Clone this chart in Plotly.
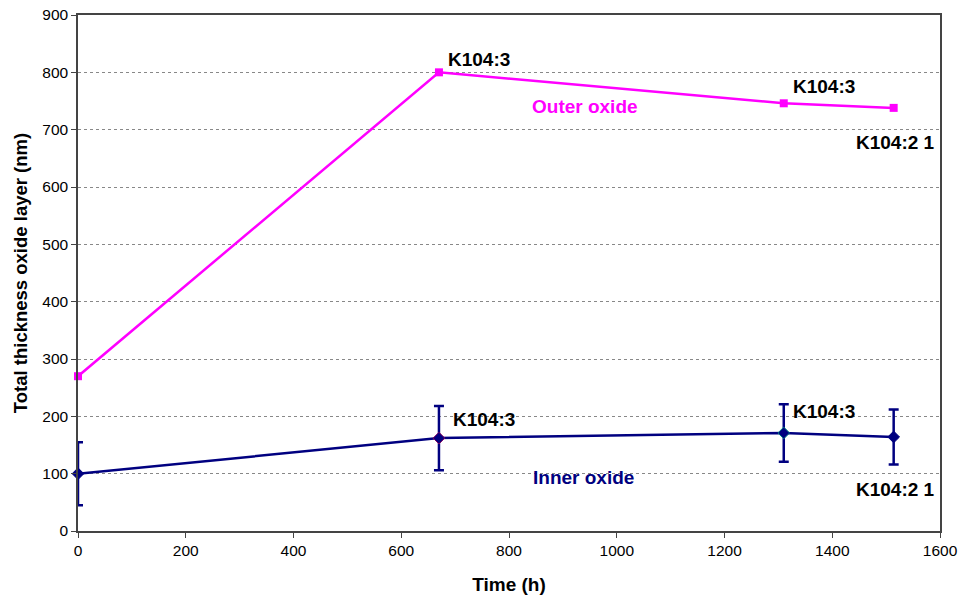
import plotly.graph_objects as go

# Exposure time (h)
time_h = [0, 670, 1310, 1514]

# Outer oxide thickness (nm)
outer_nm = [270, 800, 746, 738]

# Inner oxide thickness (nm) and its scatter
inner_nm = [100, 162, 171, 164]
inner_err = [55, 56, 50, 48]

# Point labels (text, x, y, colour)
label_text = ["K104:3", "K104:3", "K104:2 1", "Outer oxide",
              "K104:3", "K104:3", "K104:2 1", "Inner oxide"]
label_x = [744, 1384, 1518, 941, 753, 1384, 1518, 939]
label_y = [823, 776, 678, 740, 195, 208, 72, 94]
label_color = ["black", "black", "black", "#FF00FF",
               "black", "black", "black", "#000080"]

x_ticks = [0, 200, 400, 600, 800, 1000, 1200, 1400, 1600]
y_ticks = [0, 100, 200, 300, 400, 500, 600, 700, 800, 900]

FONT = "Arial, Liberation Sans, sans-serif"

fig = go.Figure()

fig.add_trace(go.Scatter(
    x=time_h, y=outer_nm, mode="lines+markers",
    line=dict(color="#FF00FF", width=2.5),
    marker=dict(symbol="square", size=8, color="#FF00FF"),
    showlegend=False, cliponaxis=False,
))

fig.add_trace(go.Scatter(
    x=time_h, y=inner_nm, mode="lines+markers",
    line=dict(color="#000080", width=2.5),
    marker=dict(symbol="diamond", size=9, color="#000080",
                line=dict(color=["#000080", "#800060", "#008080", "#000080"], width=1)),
    error_y=dict(type="data", array=inner_err, visible=True,
                 color="#000080", thickness=2.5, width=5),
    showlegend=False, cliponaxis=False,
))

for t, x, y, c in zip(label_text, label_x, label_y, label_color):
    fig.add_annotation(x=x, y=y, xref="x", yref="y", text=f"<b>{t}</b>",
                       showarrow=False, font=dict(family=FONT, size=19, color=c))

fig.update_layout(
    width=961, height=601,
    margin=dict(l=78, r=21, t=15, b=70),
    paper_bgcolor="white", plot_bgcolor="white",
    font=dict(family=FONT, size=15.5, color="black"),
)

fig.update_xaxes(
    range=[0, 1600], tickvals=x_ticks, automargin=False,
    showgrid=False, zeroline=False,
    showline=True, linecolor="#444444", linewidth=1.5, mirror=True,
    ticks="outside", ticklen=5, tickcolor="#444444",
    tickfont=dict(family=FONT, size=15.5),
    title=dict(text="<b>Time (h)</b>", font=dict(family=FONT, size=19), standoff=19),
)

fig.update_yaxes(
    range=[0, 900], tickvals=y_ticks, automargin=False,
    showgrid=True, gridcolor="#888888", griddash="dot", gridwidth=1,
    zeroline=False,
    showline=True, linecolor="#444444", linewidth=1.5, mirror=True,
    ticks="outside", ticklen=5, tickcolor="#444444",
    tickfont=dict(family=FONT, size=15.5),
    title=dict(text="<b>Total thickness oxide layer (nm)</b>",
               font=dict(family=FONT, size=18.5), standoff=10),
)

fig.write_html("out.html")
